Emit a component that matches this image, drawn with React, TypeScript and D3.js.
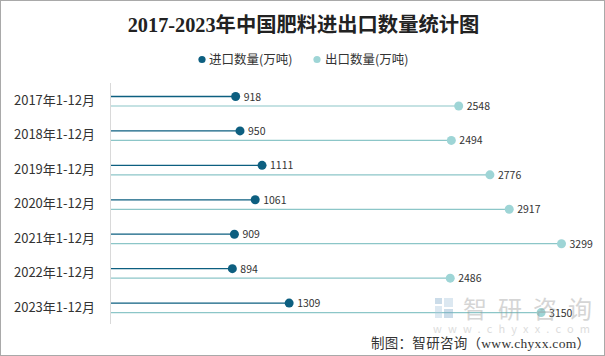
import React from "react";
import * as d3 from "d3";

const categories = ["2017年1-12月", "2018年1-12月", "2019年1-12月", "2020年1-12月", "2021年1-12月", "2022年1-12月", "2023年1-12月"];
const importValues = [918, 950, 1111, 1061, 909, 894, 1309];
const exportValues = [2548, 2494, 2776, 2917, 3299, 2486, 3150];
const seriesNames = ["进口数量(万吨)", "出口数量(万吨)"];
const title = "2017-2023年中国肥料进出口数量统计图";

const W = 605, H = 356;
const IMP = "#0d5f80";
const EXP = "#9ed5d6";
const EXP_LINE = "#8cc6c8";

export default function App() {
  const x = d3.scaleLinear().domain([0, 3500]).range([110, 589]);
  const y = d3.scaleBand().domain(categories).range([83, 324]);
  const sans = "'Noto Sans CJK SC', 'Microsoft YaHei', sans-serif";
  const serif = "'Liberation Serif', 'Noto Sans CJK SC', serif";
  return (
    <svg width={W} height={H} style={{ position: "absolute", left: 0, top: 0 }}>
      <rect x={0.5} y={0.5} width={W - 1} height={H - 1} fill="#fff" stroke="#a9a9a9" />
      <text x={W / 2 + 1} y={32} textAnchor="middle" fontFamily={serif} fontWeight="bold" fontSize={20.3} fill="#222">{title}</text>
      {/* legend */}
      <circle cx={202} cy={59.5} r={3.6} fill={IMP} />
      <text x={209} y={64} fontFamily={sans} fontSize={12.5} fill="#333">{seriesNames[0]}</text>
      <circle cx={317} cy={59.5} r={3.6} fill={EXP} />
      <text x={325} y={64} fontFamily={sans} fontSize={12.5} fill="#333">{seriesNames[1]}</text>
      {/* axis line */}
      <line x1={110.5} x2={110.5} y1={83} y2={324} stroke="#d9d9d9" />
      {categories.map((c, i) => {
        const y0 = y(c)!;
        const yi = y0 + 13.5;
        const ye = y0 + 23;
        return (
          <g key={c}>
            <text x={95} y={y0 + 22} textAnchor="end" fontFamily={sans} fontSize={13} fill="#333">{c}</text>
            <line x1={111} x2={x(importValues[i])} y1={yi} y2={yi} stroke={IMP} strokeWidth={1.3} />
            <circle cx={x(importValues[i])} cy={yi} r={4.5} fill={IMP} />
            <text x={x(importValues[i]) + 8} y={yi + 4} fontFamily={sans} fontSize={10.5} fill="#333">{importValues[i]}</text>
            <line x1={111} x2={x(exportValues[i])} y1={ye} y2={ye} stroke={EXP_LINE} strokeWidth={1.2} />
            <circle cx={x(exportValues[i])} cy={ye} r={4.5} fill={EXP} />
            <text x={x(exportValues[i]) + 8} y={ye + 4} fontFamily={sans} fontSize={10.5} fill="#333">{exportValues[i]}</text>
          </g>
        );
      })}
      {/* watermark */}
      <g opacity={0.4}>
        <rect x={435} y={298} width={7} height={6} fill="#7fa9c9" />
        <rect x={435} y={306} width={7} height={12} fill="#a9c7de" />
        <rect x={444} y={298} width={9} height={9} fill="#a9c7de" />
        <rect x={444} y={309} width={9} height={9} fill="#7fa9c9" />
        <text x={463} y={318} fontFamily={sans} fontSize={24} fill="#999" textLength={129} lengthAdjust="spacing">智研咨询</text>
        <text x={433} y={333} fontFamily={sans} fontSize={11} fill="#aaa" textLength={157} lengthAdjust="spacing">www.chyxx.com</text>
      </g>
      <text x={371} y={348} fontFamily={serif} fontSize={13.5} fill="#333" textLength={219} lengthAdjust="spacing">制图：智研咨询（www.chyxx.com）</text>
    </svg>
  );
}
